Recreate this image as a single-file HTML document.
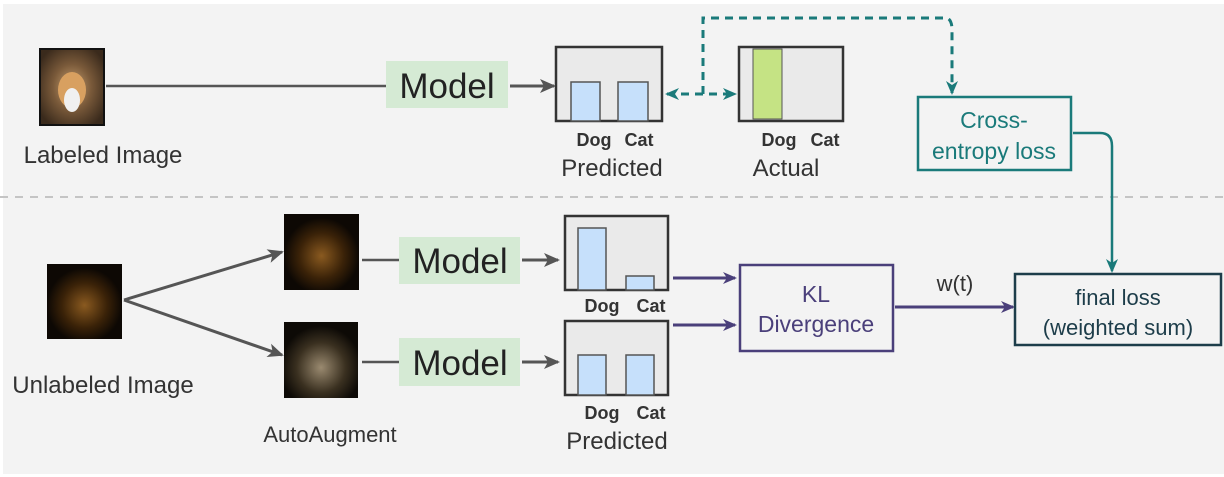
<!DOCTYPE html>
<html><head><meta charset="utf-8"><style>
html,body{margin:0;padding:0;background:#fff}
svg{display:block}
text{font-family:"Liberation Sans",sans-serif}
</style></head><body>
<svg width="1224" height="477" viewBox="0 0 1224 477" xmlns="http://www.w3.org/2000/svg">
<defs>
<radialGradient id="dk" cx="0.5" cy="0.55" r="0.5"><stop offset="0" stop-color="#8a5a20"/><stop offset="0.6" stop-color="#3a2208"/><stop offset="1" stop-color="#0d0804"/></radialGradient>
<radialGradient id="dk2" cx="0.5" cy="0.6" r="0.55"><stop offset="0" stop-color="#9a8a70"/><stop offset="0.6" stop-color="#3a3020"/><stop offset="1" stop-color="#0d0a06"/></radialGradient>
<radialGradient id="bg" cx="0.5" cy="0.5" r="0.6"><stop offset="0" stop-color="#c8a070"/><stop offset="0.5" stop-color="#7a5a3a"/><stop offset="1" stop-color="#3a2a1c"/></radialGradient>
<marker id="ag" markerWidth="16" markerHeight="16" refX="14" refY="8" orient="auto" markerUnits="userSpaceOnUse"><path d="M0,1 L16,8 L0,15 L4,8 z" fill="#555"/></marker>
<marker id="ap" markerWidth="14" markerHeight="14" refX="12" refY="7" orient="auto" markerUnits="userSpaceOnUse"><path d="M0,1 L14,7 L0,13 L4,7 z" fill="#4a3f7a"/></marker>
<marker id="at" markerWidth="14" markerHeight="14" refX="12" refY="7" orient="auto" markerUnits="userSpaceOnUse"><path d="M0,1 L14,7 L0,13 L4,7 z" fill="#1a7a7a"/></marker>
<marker id="at2" markerWidth="14" markerHeight="14" refX="2" refY="7" orient="auto" markerUnits="userSpaceOnUse"><path d="M14,1 L0,7 L14,13 L10,7 z" fill="#1a7a7a"/></marker>
</defs>
<rect x="3" y="4" width="1221" height="470" fill="#f3f3f3"/>
<line x1="0" y1="197" x2="1224" y2="197" stroke="#c4c4c4" stroke-width="2" stroke-dasharray="8,7"/>

<rect x="40" y="49" width="64" height="76" fill="url(#bg)" stroke="#111" stroke-width="2"/>
<ellipse cx="72" cy="90" rx="14" ry="18" fill="#d8a060"/>
<ellipse cx="72" cy="100" rx="8" ry="12" fill="#f0f0f0"/>
<text x="103" y="163" font-size="24" fill="#333" text-anchor="middle">Labeled Image</text>
<line x1="106" y1="86" x2="388" y2="86" stroke="#555" stroke-width="2.5"/>
<rect x="386" y="61" width="122" height="47" fill="#d5ead4"/>
<text x="447" y="98" font-size="35" fill="#222" text-anchor="middle">Model</text>
<line x1="510" y1="86" x2="554" y2="86" stroke="#555" stroke-width="3" marker-end="url(#ag)"/>

<rect x="556" y="47" width="106" height="74" fill="#eaeaea" stroke="#333" stroke-width="2.5"/>
<rect x="571" y="82" width="29" height="39" fill="#c6e0fb" stroke="#555" stroke-width="1.5"/>
<rect x="618" y="82" width="30" height="39" fill="#c6e0fb" stroke="#555" stroke-width="1.5"/>
<text x="594" y="146" font-size="18" font-weight="bold" fill="#333" text-anchor="middle">Dog</text>
<text x="639" y="146" font-size="18" font-weight="bold" fill="#333" text-anchor="middle">Cat</text>
<text x="612" y="176" font-size="24" fill="#333" text-anchor="middle">Predicted</text>

<line x1="667" y1="94" x2="735" y2="94" stroke="#1a7a7a" stroke-width="3" stroke-dasharray="8,6" marker-start="url(#at2)" marker-end="url(#at)"/>
<path d="M703,94 L703,18 L947,18 Q952,20 952,30 L952,93" fill="none" stroke="#1a7a7a" stroke-width="3" stroke-dasharray="8,6" marker-end="url(#at)"/>

<rect x="739" y="47" width="104" height="74" fill="#eaeaea" stroke="#333" stroke-width="2.5"/>
<rect x="753" y="49" width="29" height="70" fill="#c5e384" stroke="#555" stroke-width="1"/>
<text x="779" y="146" font-size="18" font-weight="bold" fill="#333" text-anchor="middle">Dog</text>
<text x="825" y="146" font-size="18" font-weight="bold" fill="#333" text-anchor="middle">Cat</text>
<text x="786" y="176" font-size="24" fill="#333" text-anchor="middle">Actual</text>

<rect x="918" y="97" width="153" height="73" fill="none" stroke="#1a7a7a" stroke-width="2.5"/>
<text x="994" y="128" font-size="23" fill="#1a7a7a" text-anchor="middle">Cross-</text>
<text x="994" y="159" font-size="23" fill="#1a7a7a" text-anchor="middle">entropy loss</text>
<path d="M1073,133 L1100,133 Q1112,133 1112,146 L1112,271" fill="none" stroke="#1a7a7a" stroke-width="2.5" marker-end="url(#at)"/>

<rect x="47" y="264" width="75" height="75" fill="url(#dk)"/>
<text x="103" y="393" font-size="24" fill="#333" text-anchor="middle">Unlabeled Image</text>
<line x1="124" y1="300" x2="282" y2="252" stroke="#555" stroke-width="3" marker-end="url(#ag)"/>
<line x1="124" y1="300" x2="282" y2="355" stroke="#555" stroke-width="3" marker-end="url(#ag)"/>
<rect x="284" y="214" width="75" height="76" fill="url(#dk)"/>
<rect x="284" y="322" width="74" height="76" fill="url(#dk2)"/>
<text x="330" y="442" font-size="22" fill="#333" text-anchor="middle">AutoAugment</text>

<line x1="362" y1="260" x2="401" y2="260" stroke="#555" stroke-width="2.5"/>
<rect x="399" y="237" width="121" height="47" fill="#d5ead4"/>
<text x="460" y="273" font-size="35" fill="#222" text-anchor="middle">Model</text>
<line x1="522" y1="260" x2="558" y2="260" stroke="#555" stroke-width="3" marker-end="url(#ag)"/>

<line x1="362" y1="362" x2="401" y2="362" stroke="#555" stroke-width="2.5"/>
<rect x="399" y="338" width="121" height="48" fill="#d5ead4"/>
<text x="460" y="375" font-size="35" fill="#222" text-anchor="middle">Model</text>
<line x1="522" y1="362" x2="558" y2="362" stroke="#555" stroke-width="3" marker-end="url(#ag)"/>

<rect x="565" y="216" width="103" height="74" fill="#eaeaea" stroke="#333" stroke-width="2.5"/>
<rect x="578" y="228" width="28" height="62" fill="#c6e0fb" stroke="#555" stroke-width="1.5"/>
<rect x="626" y="276" width="28" height="14" fill="#c6e0fb" stroke="#555" stroke-width="1.5"/>
<text x="602" y="312" font-size="18" font-weight="bold" fill="#333" text-anchor="middle">Dog</text>
<text x="651" y="312" font-size="18" font-weight="bold" fill="#333" text-anchor="middle">Cat</text>
<rect x="565" y="321" width="103" height="74" fill="#eaeaea" stroke="#333" stroke-width="2.5"/>
<rect x="578" y="355" width="28" height="40" fill="#c6e0fb" stroke="#555" stroke-width="1.5"/>
<rect x="626" y="355" width="28" height="40" fill="#c6e0fb" stroke="#555" stroke-width="1.5"/>
<text x="602" y="419" font-size="18" font-weight="bold" fill="#333" text-anchor="middle">Dog</text>
<text x="651" y="419" font-size="18" font-weight="bold" fill="#333" text-anchor="middle">Cat</text>
<text x="617" y="449" font-size="24" fill="#333" text-anchor="middle">Predicted</text>

<line x1="673" y1="278" x2="735" y2="278" stroke="#4a3f7a" stroke-width="3" marker-end="url(#ap)"/>
<line x1="673" y1="325" x2="735" y2="325" stroke="#4a3f7a" stroke-width="3" marker-end="url(#ap)"/>
<rect x="740" y="265" width="153" height="86" fill="none" stroke="#4a3f7a" stroke-width="2.5"/>
<text x="816" y="302" font-size="23" fill="#4a3f7a" text-anchor="middle">KL</text>
<text x="816" y="332" font-size="23" fill="#4a3f7a" text-anchor="middle">Divergence</text>
<line x1="895" y1="307" x2="1013" y2="307" stroke="#4a3f7a" stroke-width="3" marker-end="url(#ap)"/>
<text x="955" y="291" font-size="22" fill="#333" text-anchor="middle">w(t)</text>

<rect x="1015" y="274" width="206" height="71" fill="none" stroke="#1d3d4a" stroke-width="2.5"/>
<text x="1118" y="305" font-size="22" fill="#1d3d4a" text-anchor="middle">final loss</text>
<text x="1118" y="335" font-size="22" fill="#1d3d4a" text-anchor="middle">(weighted sum)</text>
</svg>
</body></html>
